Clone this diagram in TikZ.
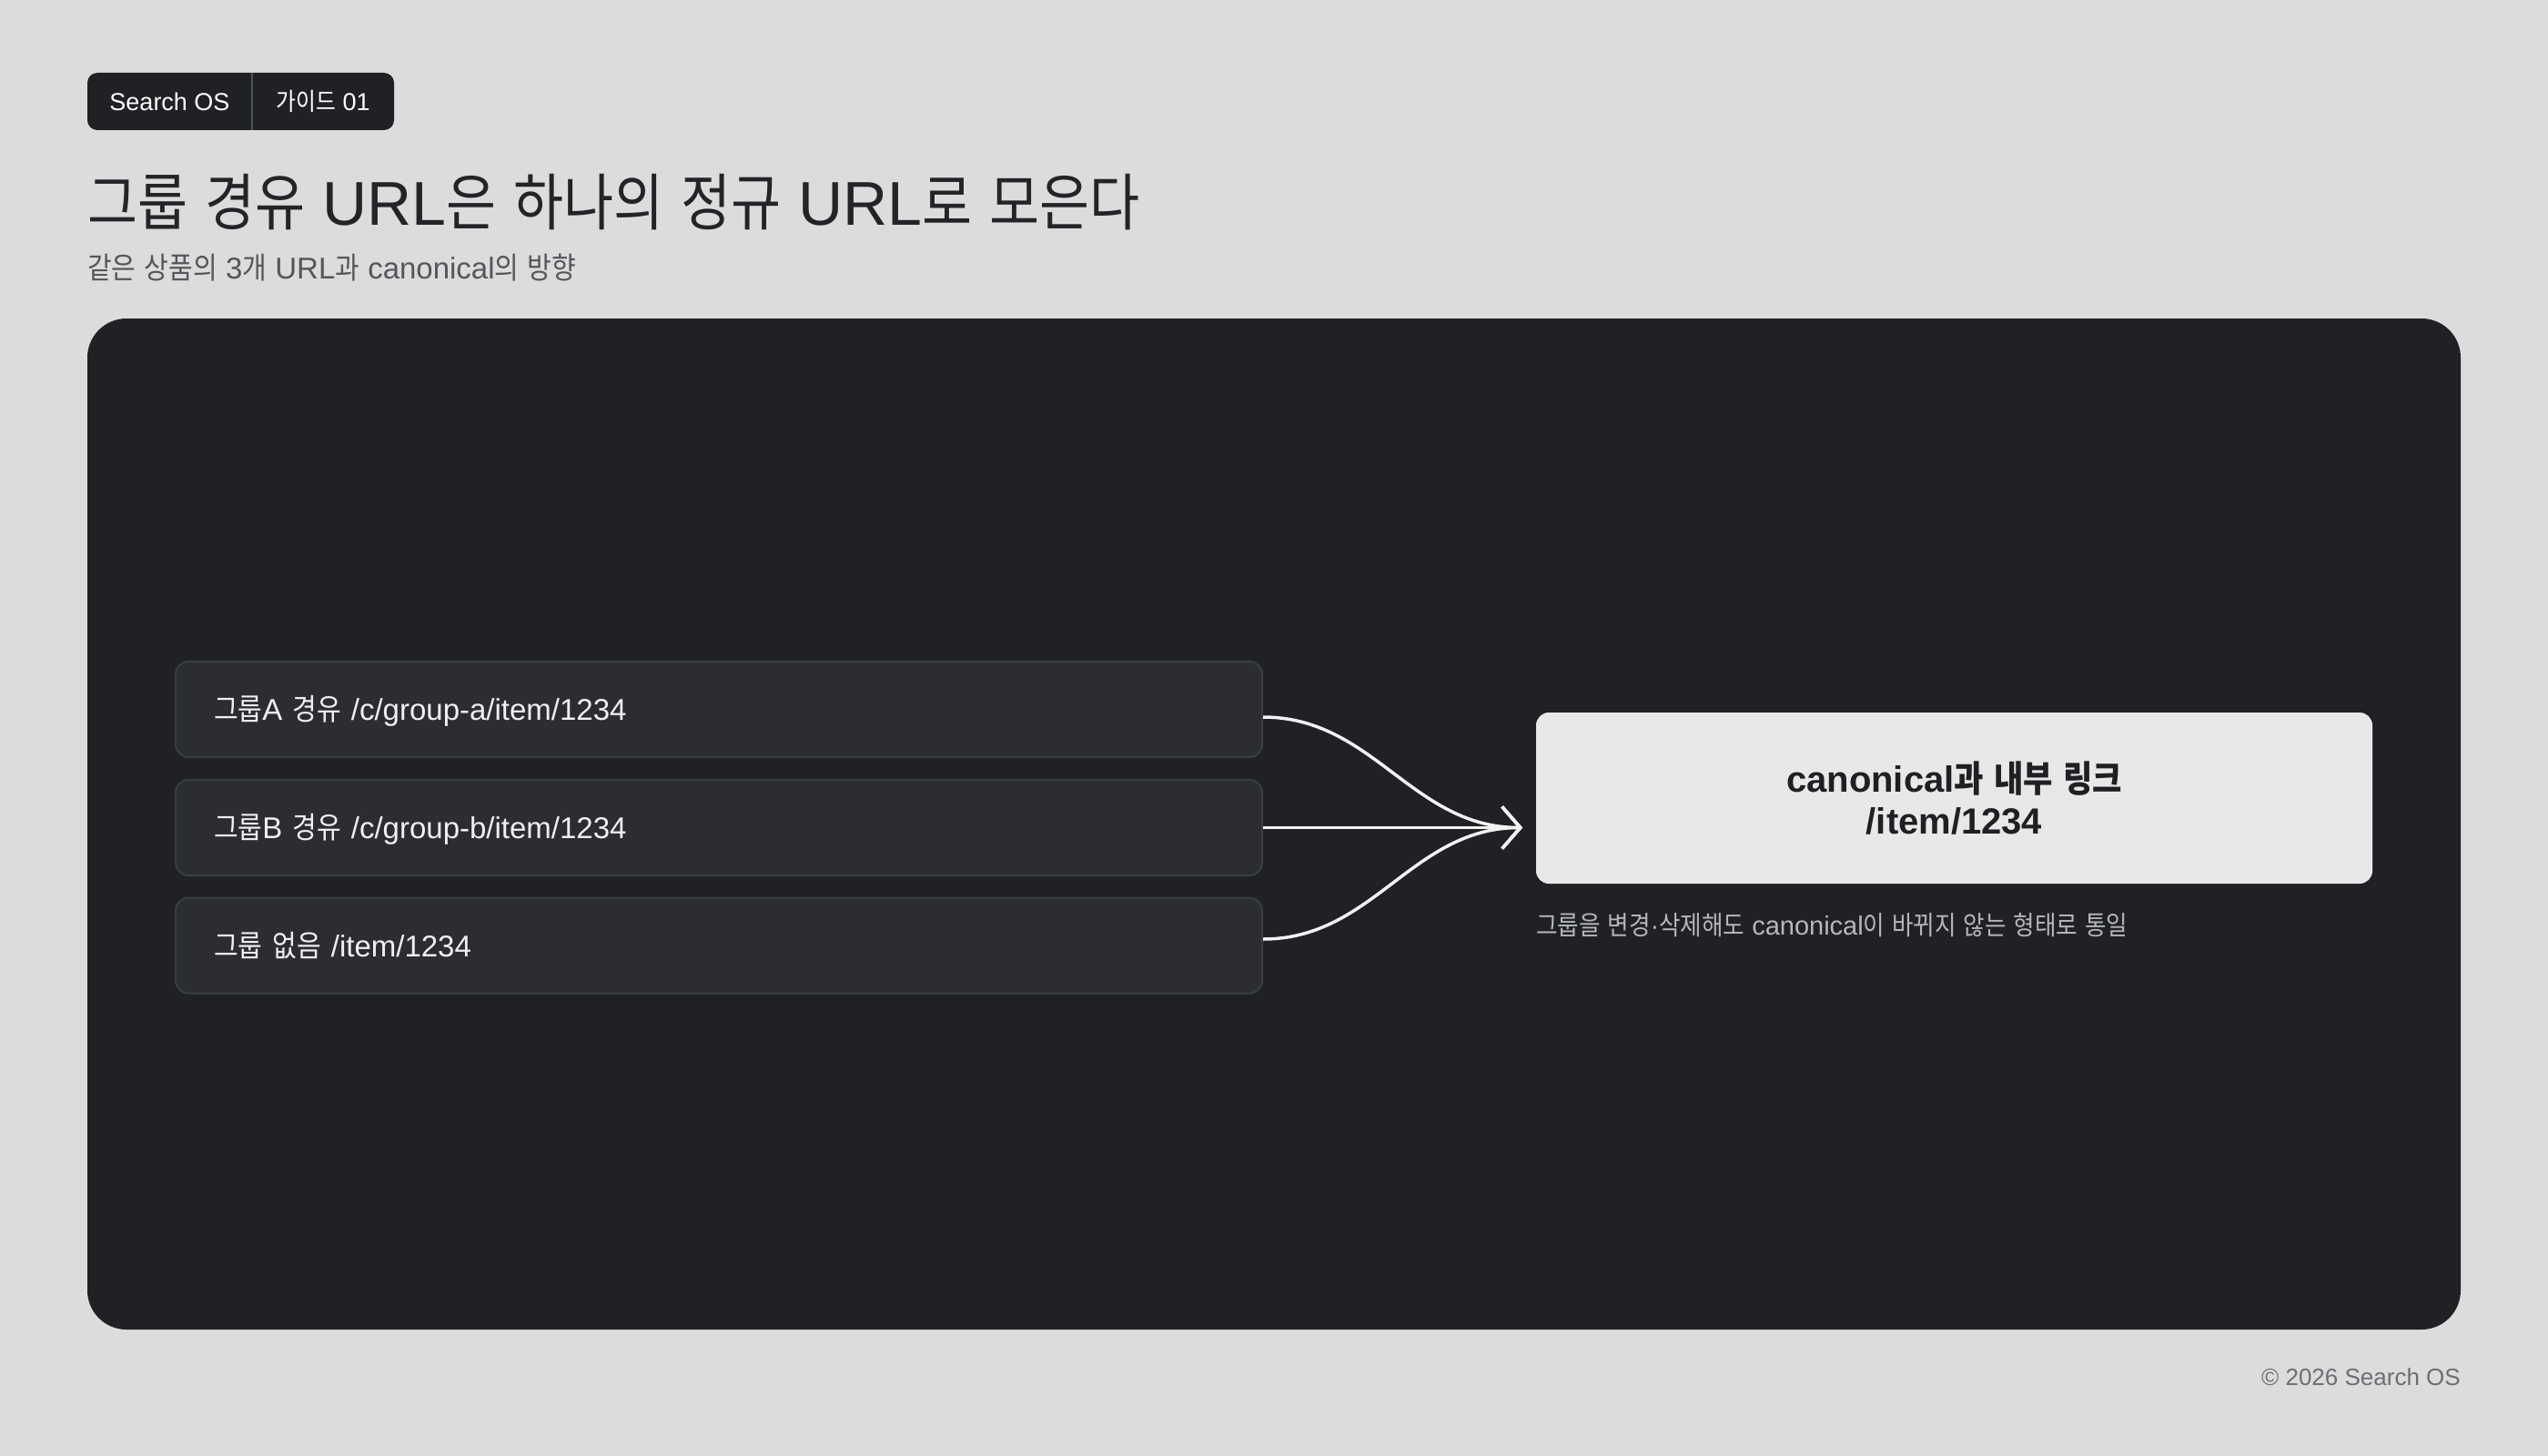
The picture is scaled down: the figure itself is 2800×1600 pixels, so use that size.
\documentclass[tikz,border=0pt]{standalone}
\usepackage{fontspec}
\usetikzlibrary{arrows.meta}
\setmainfont{Liberation Sans}
\newfontfamily\krfont[FakeStretch=0.88]{Noto Sans CJK KR}
\XeTeXinterchartokenstate=1
\newXeTeXintercharclass\KrClass
\count255="AC00
\loop
\XeTeXcharclass\count255=\KrClass
\advance\count255 by 1
\ifnum\count255<"D7A4 \repeat
\XeTeXinterchartoks 0 \KrClass = {\begingroup\krfont}
\XeTeXinterchartoks 4095 \KrClass = {\begingroup\krfont}
\XeTeXinterchartoks \KrClass 0 = {\endgroup}
\XeTeXinterchartoks \KrClass 4095 = {\endgroup}
\definecolor{bgc}{HTML}{DCDCDC}
\definecolor{panelc}{HTML}{202124}
\definecolor{boxfill}{HTML}{2B2D32}
\definecolor{boxline}{HTML}{3A3D42}
\definecolor{srctext}{HTML}{F0F0F0}
\definecolor{tgtfill}{HTML}{E8E8E8}
\definecolor{tgttext}{HTML}{1F2023}
\definecolor{capc}{HTML}{B5B7BB}
\definecolor{titlec}{HTML}{232428}
\definecolor{subc}{HTML}{54565B}
\definecolor{footc}{HTML}{6C6E73}
\definecolor{divc}{HTML}{50525A}
\definecolor{arrowc}{HTML}{F2F2F2}
\begin{document}
\begin{tikzpicture}[x=1pt,y=-1pt,
  badgetext/.style={anchor=base, inner sep=0pt, text=white, font=\fontsize{27}{32}\selectfont},
  srcbox/.style={draw=boxline, line width=2pt, fill=boxfill, rounded corners=14pt,
    minimum width=1194pt, minimum height=105pt, text width=1110pt, inner xsep=42pt,
    inner ysep=0pt, align=left, text=srctext, font=\fontsize{33}{40}\selectfont,
    text height=24pt, text depth=0pt},
  tgtbox/.style={fill=tgtfill, rounded corners=14pt, minimum width=919pt,
    minimum height=188pt, align=center, text=tgttext,
    font=\bfseries\fontsize{40}{48}\selectfont},
  flow/.style={draw=arrowc, line width=3.5pt, -{Straight Barb[length=20pt,width=46pt]}}]
\fill[bgc] (0,0) rectangle (2800,1600);
\useasboundingbox (0,0) rectangle (2800,1600);
% badge
\fill[panelc, rounded corners=11pt] (96,80) rectangle (433,143);
\coordinate (divtop) at (277,80);
\coordinate (divbot) at (277,143);
\draw[divc, line width=2pt] (divtop) -- (divbot);
\node[badgetext] (bsearch) at (186.5,122) {Search OS};
\node[badgetext] (bguide) at (355,122) {가이드 01};
% title
\node[anchor=base west, inner sep=0pt, text=titlec, font=\fontsize{68}{80}\selectfont] (title) at (96,247) {그룹 경유 URL은 하나의 정규 URL로 모은다};
\node[anchor=base west, inner sep=0pt, text=subc, font=\fontsize{33}{39}\selectfont] (sub) at (96,306) {같은 상품의 3개 URL과 canonical의 방향};
% panel
\fill[panelc, rounded corners=43pt] (96,350) rectangle (2704,1461);
% source boxes
\node[srcbox] (ga) at (790,779.5) {그룹A 경유 /c/group-a/item/1234};
\node[srcbox] (gb) at (790,909.5) {그룹B 경유 /c/group-b/item/1234};
\node[srcbox] (gc) at (790,1039) {그룹 없음 /item/1234};
% target
\node[tgtbox] (canon) at (2147.5,877) {canonical과 내부 링크\\[-2pt]/item/1234};
\node[anchor=base west, inner sep=0pt, text=capc, font=\fontsize{29}{35}\selectfont] (note) at (1688,1027) {그룹을 변경·삭제해도 canonical이 바뀌지 않는 형태로 통일};
% arrows
\coordinate (tip) at (1673,909.5);
\draw[flow] ([yshift=-8.5pt]ga.east) to[out=0,in=180] (tip);
\draw[flow] (gb.east) -- (tip);
\draw[flow] ([yshift=7pt]gc.east) to[out=0,in=180] (tip);
% footer
\node[anchor=base east, inner sep=0pt, text=footc, font=\fontsize{26}{31}\selectfont] (foot) at (2704,1522) {© 2026 Search OS};
\end{tikzpicture}
\end{document}
